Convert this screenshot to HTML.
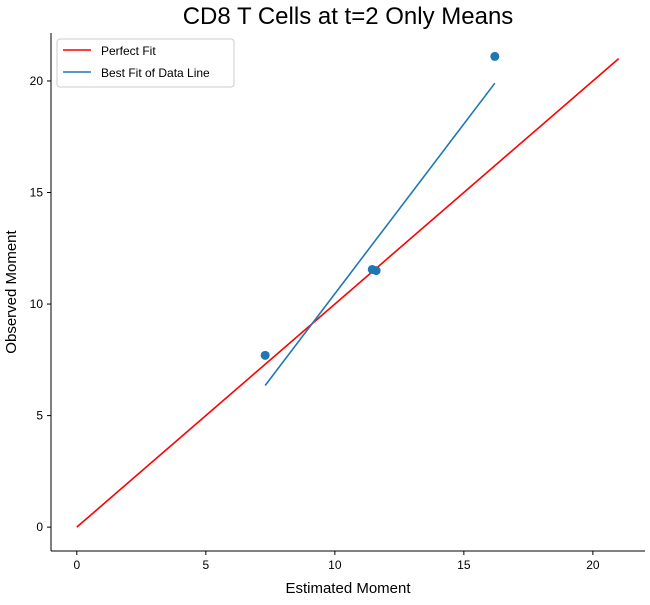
<!DOCTYPE html>
<html><head><meta charset="utf-8"><style>
body{margin:0;background:#fff;font-family:"Liberation Sans",Arial,sans-serif}
</style></head><body>
<svg id="chart" width="650" height="600" xmlns="http://www.w3.org/2000/svg"></svg>
<script>
const xTicks=[0,5,10,15,20];
const yTicks=[0,5,10,15,20];
const pointsX=[7.3,11.45,11.6,16.2];
const pointsY=[7.7,11.55,11.5,21.1];
const perfectX=[0,21];
const perfectY=[0,21];
const fitX=[7.3,16.2];
const fitY=[6.35,19.9];
const L=51,R=645,T=33,B=551,xmin=-1,xmax=22.02,ymin=-1.07,ymax=22.15;
const sx=v=>L+(v-xmin)/(xmax-xmin)*(R-L);
const sy=v=>B-(v-ymin)/(ymax-ymin)*(B-T);
const svg=document.getElementById('chart');
const NS='http://www.w3.org/2000/svg';
function mk(tag,attrs,parent){const e=document.createElementNS(NS,tag);for(const k in attrs)e.setAttribute(k,attrs[k]);(parent||svg).appendChild(e);return e;}
let t=mk('text',{x:(L+R)/2,y:24,'text-anchor':'middle','font-size':24});t.textContent='CD8 T Cells at t=2 Only Means';


let l=mk('line',{x1:L,y1:T,x2:L,y2:B,stroke:'#000','stroke-width':1});


l=mk('line',{x1:L,y1:B,x2:R,y2:B,stroke:'#000','stroke-width':1});


xTicks.forEach(v=>{mk('line',{x1:sx(v),x2:sx(v),y1:B,y2:B+4,stroke:'#000'});
 const tx=mk('text',{x:sx(v),y:B+18,'text-anchor':'middle','font-size':12});tx.textContent=v;
 
 });
yTicks.forEach(v=>{mk('line',{x1:L-4,x2:L,y1:sy(v),y2:sy(v),stroke:'#000'});
 const tx=mk('text',{x:L-8,y:sy(v)+4,'text-anchor':'end','font-size':12});tx.textContent=v;
 
 });
t=mk('text',{x:(L+R)/2,y:593,'text-anchor':'middle','font-size':15});t.textContent='Estimated Moment';


t=mk('text',{x:16,y:(T+B)/2,'text-anchor':'middle','font-size':15,transform:`rotate(-90 16 ${(T+B)/2})`});t.textContent='Observed Moment';


let p=mk('polyline',{points:perfectX.map((x,i)=>sx(x)+','+sy(perfectY[i])).join(' '),stroke:'#ff0000','stroke-width':1.6,fill:'none'});


p=mk('polyline',{points:fitX.map((x,i)=>sx(x)+','+sy(fitY[i])).join(' '),stroke:'#1f77b4','stroke-width':1.6,fill:'none'});


pointsX.forEach((x,i)=>{const c=mk('circle',{cx:sx(x),cy:sy(pointsY[i]),r:4.5,fill:'#1f77b4'});
 
 });
const g=mk('g',{});


mk('rect',{x:57,y:39,width:177,height:48,rx:3,fill:'#fff',stroke:'#ccc'},g);
mk('line',{x1:63,x2:91,y1:50,y2:50,stroke:'#ff0000','stroke-width':1.6},g);
mk('line',{x1:63,x2:91,y1:72,y2:72,stroke:'#1f77b4','stroke-width':1.6},g);
let e=mk('text',{x:101,y:55,'font-size':12},g);e.textContent='Perfect Fit';


e=mk('text',{x:101,y:77,'font-size':12},g);e.textContent='Best Fit of Data Line';


</script>
</body></html>
